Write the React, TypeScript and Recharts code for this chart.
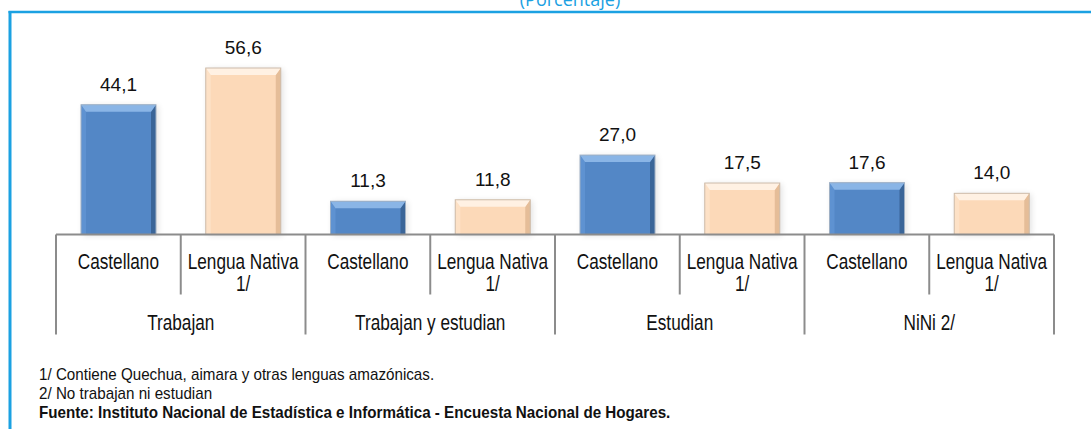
import React from 'react';
import { BarChart, Bar, XAxis, YAxis, LabelList } from 'recharts';

const groups = ['Trabajan', 'Trabajan y estudian', 'Estudian', 'NiNi 2/'];
const languages = ['Castellano', 'Lengua Nativa 1/'];
const values = [44.1, 56.6, 11.3, 11.8, 27.0, 17.5, 17.6, 14.0];
const notes = [
  '1/  Contiene Quechua, aimara y otras lenguas amazónicas.',
  '2/ No trabajan ni estudian',
];
const source = 'Fuente: Instituto Nacional de Estadística e Informática - Encuesta Nacional de Hogares.';
const subtitle = '(Porcentaje)';

const WIDTH = 1091;
const HEIGHT = 429;
const MARGIN = { top: 58, right: 37, left: 56, bottom: 94.5 };
const BAND = (WIDTH - MARGIN.left - MARGIN.right) / values.length;

const SANS = "'Liberation Sans', Arial, sans-serif";

const data = values.map((v, i) => ({
  id: `${groups[Math.floor(i / 2)]}|${languages[i % 2]}`,
  value: v,
}));

const palettes = [
  { main: '#5387c6', top: '#8ab5e6', left: '#5e92d1', right: '#3a6598', edge: '#9fb0c4' },
  { main: '#fcd9b8', top: '#fff1e3', left: '#fde1c6', right: '#e5bd98', edge: '#cdbcab' },
];

// no Arial Narrow available, so squeeze Liberation Sans horizontally
const NarrowText = ({ x, y, anchor = 'middle', size, squeeze = 0.8, bold, children }: any) => (
  <g transform={`translate(${x},${y}) scale(${squeeze},1)`}>
    <text x={0} y={0} textAnchor={anchor} fill="#111" fontSize={size} fontWeight={bold ? 'bold' : 'normal'} fontFamily={SANS}>
      {children}
    </text>
  </g>
);

const BevelBar = (props: any) => {
  const { x, y, width, height, index } = props;
  if (!height || height <= 0) return null;
  const p = palettes[index % 2];
  const b = Math.min(7, height / 2);
  const s = 5;
  return (
    <g>
      <rect x={x + 2} y={y + 1} width={width} height={height} fill="#000" opacity={0.12} filter="url(#barShadow)" />
      <rect x={x} y={y} width={width} height={height} fill={p.main} />
      <polygon points={`${x},${y} ${x + s},${y + b} ${x + s},${y + height} ${x},${y + height}`} fill={p.left} />
      <polygon
        points={`${x + width},${y} ${x + width},${y + height} ${x + width - s},${y + height} ${x + width - s},${y + b}`}
        fill={p.right}
      />
      <polygon points={`${x},${y} ${x + width},${y} ${x + width - s},${y + b} ${x + s},${y + b}`} fill={p.top} />
      <rect x={x} y={y} width={width} height={height} fill="none" stroke={p.edge} strokeWidth={1} />
    </g>
  );
};

const CategoryTick = (props: any) => {
  const { x, y, payload } = props;
  const index = props.index ?? payload.index;
  const [group, lang] = String(payload.value).split('|');
  const lines = lang === 'Lengua Nativa 1/' ? ['Lengua Nativa', '1/'] : [lang];
  const left = x - BAND / 2;
  const right = x + BAND / 2;
  const groupStart = index % 2 === 0;
  const isLast = index === values.length - 1;
  return (
    <g>
      <line x1={left} y1={y} x2={left} y2={y + (groupStart ? 100 : 60)} stroke="#8c8c8c" strokeWidth={2} />
      {isLast && <line x1={right} y1={y} x2={right} y2={y + 100} stroke="#8c8c8c" strokeWidth={2} />}
      {lines.map((t, k) => (
        <NarrowText key={k} x={x} y={y + 34 + k * 22} size={21.5}>
          {t}
        </NarrowText>
      ))}
      {!groupStart && (
        <NarrowText x={left} y={y + 95.5} size={21.5}>
          {group}
        </NarrowText>
      )}
    </g>
  );
};

const ValueLabel = (props: any) => {
  const { x, y, width, value } = props;
  return (
    <text x={x + width / 2} y={y - 14} textAnchor="middle" fill="#111" fontSize={19} fontFamily={SANS}>
      {Number(value).toFixed(1).replace('.', ',')}
    </text>
  );
};

export default function App() {
  return (
    <div style={{ position: 'absolute', left: 0, top: 0, width: WIDTH, height: HEIGHT, overflow: 'hidden', background: '#fff' }}>
      <BarChart width={WIDTH} height={HEIGHT} data={data} margin={MARGIN}>
        <defs>
          <filter id="barShadow" x="-20%" y="-20%" width="140%" height="140%">
            <feGaussianBlur stdDeviation="3" />
          </filter>
        </defs>
        <XAxis
          dataKey="id"
          height={100}
          interval={0}
          tickSize={0}
          tickMargin={0}
          tickLine={false}
          axisLine={{ stroke: '#8c8c8c', strokeWidth: 2 }}
          tick={<CategoryTick />}
        />
        <YAxis hide domain={[0, 60]} />
        <Bar dataKey="value" barSize={75} shape={<BevelBar />} isAnimationActive={false}>
          <LabelList dataKey="value" content={<ValueLabel />} />
        </Bar>
      </BarChart>
      <svg width={WIDTH} height={HEIGHT} style={{ position: 'absolute', left: 0, top: 0, pointerEvents: 'none' }}>
        <text x={570} y={6} textAnchor="middle" fill="#1ba1e2" fontSize={18} fontFamily="'Open Sans', sans-serif">
          {subtitle}
        </text>
        <line x1={8.5} y1={12} x2={WIDTH} y2={12} stroke="#1ba1e2" strokeWidth={2.5} />
        <line x1={10} y1={11} x2={10} y2={HEIGHT} stroke="#1ba1e2" strokeWidth={3} />
        {notes.map((n, i) => (
          <NarrowText key={i} x={39} y={380 + i * 19} anchor="start" size={16} squeeze={0.95}>
            {n}
          </NarrowText>
        ))}
        <NarrowText x={39} y={418} anchor="start" size={16} squeeze={0.95} bold>
          {source}
        </NarrowText>
      </svg>
    </div>
  );
}
